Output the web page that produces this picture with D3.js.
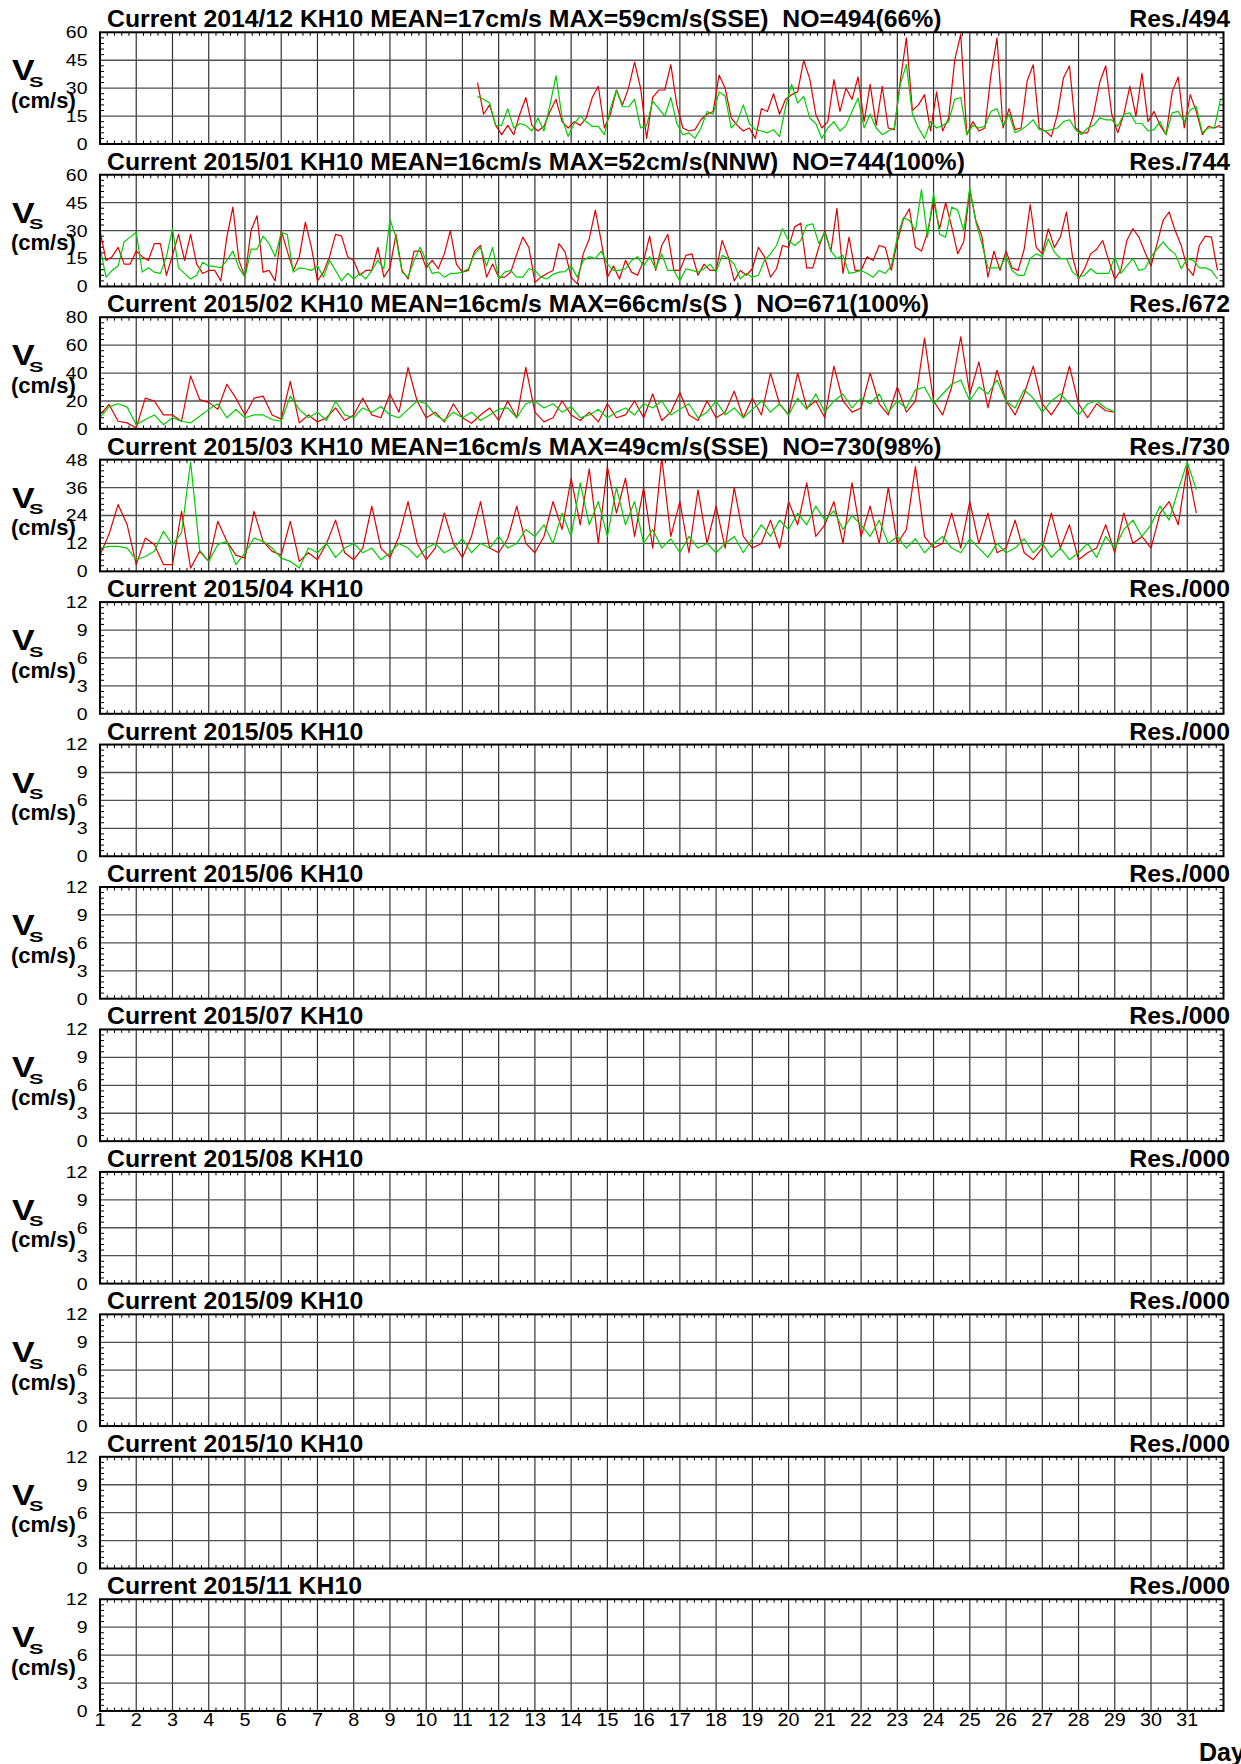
<!DOCTYPE html>
<html><head><meta charset="utf-8">
<script src="https://cdn.jsdelivr.net/npm/d3@7"></script>
<style>
body{margin:0;background:#fff}
svg{display:block}
text{font-family:"Liberation Sans",Arial,Helvetica,sans-serif;white-space:pre}
</style>
</head><body>
<svg id="chart" width="1241" height="1764"></svg>
<script>
// ---------------- data ----------------
const panelMonths = ["2014/12","2015/01","2015/02","2015/03","2015/04","2015/05","2015/06","2015/07","2015/08","2015/09","2015/10","2015/11"];
const panelStats = ["MEAN=17cm/s MAX=59cm/s(SSE)  NO=494(66%)","MEAN=16cm/s MAX=52cm/s(NNW)  NO=744(100%)","MEAN=16cm/s MAX=66cm/s(S )  NO=671(100%)","MEAN=16cm/s MAX=49cm/s(SSE)  NO=730(98%)","","","","","","","",""];
const panelRes = ["Res./494","Res./744","Res./672","Res./730","Res./000","Res./000","Res./000","Res./000","Res./000","Res./000","Res./000","Res./000"];
const panelYMax = [60,60,80,48,12,12,12,12,12,12,12,12];
const dayTicks = d3.range(1, 32);
const stationName = "KH10";

// records sampled every `step` hours starting at `start` hours after day 1 00:00
const red201412 = [33,16,21,10,5,10,5,16,25,10,7,9.5,17.5,24,12,8.6,12,10,14,25,31,8.6,16,29,21,30,44,30,3,25,29,29,42.6,21,8.6,7,7.7,13,16,17.5,37,30,14,10,7,8.6,3,19,17.5,27,16,24,26.5,28,45,35,16,8.6,12,34.6,17.5,30,
 24,36,12,32,10,31,8.6,7.7,34,57,18,21,26.5,7,28,7,14,45,59,5,12,7,8.6,37,57,8.6,19,7.7,8.6,34,42.6,8.6,7,4,16,35.5,42,8.6,6,6,16,33,42,16,6,16,31,15,38,12,17.5,10,5,28,36,8.6,26.5,17.5,5,9.5,8.6,10];
const green201412 = [25.6,24,22,10,10,19,8.6,11,10,7,14,7,21,36.7,14,4,11,15,12,9.5,9.5,5,19,29,20,20,24,8.6,10,23,19,15,25,11,5,6,3,8.6,17.5,16,28,25.6,8.6,12,21,11,7.7,7,6,7.7,4,20,32,22,25.6,14,11,3,8.6,12,7,10,
 17.5,24.7,8.6,16,8.6,5,7,8.6,32,42.6,16,8.6,3,12,8.6,10,12,24,25,5,10,8.6,9.5,17.5,19,10,16,6,7.7,10,13,7.7,7,7.7,8.6,12,13,7.7,5,8.6,10,14,13,13,9.5,16,16.7,11,11,7,7.7,12,5,16.7,17.5,12,18.4,20,6,8.6,8.6,24];
const red201501 = [30,14,16,21,12,12,19,16,14,23,23,6,16.7,28,14,28,12,7,8.6,8.6,3,26.5,42.6,14,5,30,38,7.7,8.6,3,30,19,8.6,16,34.6,21,3,7.7,16,28,27,16,14,6,8.6,8.6,21,5,10,28,8.6,4,19,19,10,14,9.5,17.5,30,12,7.7,8.6,19,22,
 5,12,5,5,7.7,17.5,26.5,21,2.3,5,7,8.6,23,18.4,5,1.4,17.5,25.6,41,24,5,11,4,14,7.7,6,14,27,8.6,22,28,8.6,8.6,16.7,17.5,6,12,8.6,8.6,24.7,16,3,8.6,6,9.5,21,16,5,9.5,22,21,32,34,10,10,21,30,19,42,7,26.5,8.6,
 8.6,16,14,22,21,8.6,24,36,41.7,21,19,29,46,31,45,32,17.5,24,52,35.5,27,5,19,8.6,19,10,8.6,20,44,21,17.5,31,21,26.5,40,16,4,9.5,17.5,20,24.7,14,4,8.6,24.7,31,26.5,18.4,11,23,35.5,40,30,22,10,6,22,27,26.5,8.6];
const green201501 = [21,5,8.6,11,24,26.5,29,7.7,10,7.7,7,16,31,10,7,4,6,13,11,10.7,10,14,19,10,5,20,20,27,23,16,29,28,7.7,10,9.5,8.6,11,5,14,8.6,3,7,4,7,4,8.6,14,9.5,36,26.5,7.7,5,14,21,14,7,7.7,5,7,7,7.7,9.5,17.5,21,
 11,21,4,7.7,8.6,5,5,9.5,8.6,5,4,6.5,7.7,8,11,5,14,16,15,19,12,8.6,8.6,9.5,14,16,11,16,9.5,17.5,8.6,8.6,3,9.5,8.6,7.7,9.5,12,7.7,16.7,15,12,4,7,5,6,14,17.5,22,31,24.7,22,24.7,32.8,33.7,23,29,19,15,16.7,7,7.7,
 8.6,7,5,8.6,7,11,26.5,37,35.5,30,52,26.5,50,28,26.5,42.6,41,30,53,34.6,23,10,10,10,16,8.6,6,6,15,17.5,16,25.6,18.4,15,15,7.7,5,6,9.5,7,7,7,16,7,11,15,8.6,9.5,16,20,24,20,17.5,9.5,15,14,10,10,8.6,4];
const red201502 = [10,17.5,5.5,4.3,0.7,22,20,10,10,5.5,38,21,19,14,32,22,10,22,23.5,10,7,34,4.3,
 10,5,8,15,6,10,22,10,8,25, 12,44,20,8,12,5,18,8,4,10, 15,6,20,8,44,12,5,8,20,10, 6,12,5,18,8,10,20,8,25,6,
 12,26,10,6,20,8,12,27,8,22, 10,40,18,10,40,15,20,8,45,20, 12,15,40,18,10,30,12,20,65,20, 10,30,66,25,48,15,42,20,10,25,
 45,18,10,20,45,18,8,18,13,12];
const green201502 = [8,16,18,15.6,3,6.7,10,3,8,5.5,4.3,9,14,18,8,14,8,10,10,6.7,5.5,23.5,14,
 8,12,6,20,10,8,15,12,16,10, 8,14,20,18,10,6,12,8,12,6, 10,14,15,8,18,20,15,18,12,16, 8,10,14,8,12,15,10,18,15,20,
 10,14,18,8,12,20,10,15,8,14, 20,12,18,10,22,14,25,12,20,25, 15,22,18,25,12,20,15,28,30,18, 25,32,35,20,30,25,35,20,15,28,
 22,12,20,25,18,10,18,20,15,12];
const red201503 = [7,16,28.7,20,2.9,14.3,11.5,2.9,2.9,25.8,1.4,8.6,4.3,21.5,12.9,7,5.7,25.8,12.9,8.6,7,21.5,4.3,
 8,5,12,22,8,5,10,28,10,6, 15,30,12,5,10,25,12,6,15,30, 10,8,14,28,12,8,15,30,18,40, 20,44,12,45,25,40,15,36,10,49,
 15,30,8,35,12,28,10,36,15,10, 12,22,10,30,20,38,15,20,30,12, 38,15,28,12,36,12,18,45,15,10, 12,25,10,30,12,25,8,10,22,8,
 5,10,25,10,20,5,8,10,20,8, 25,12,15,10,25,30,20,45,25];
const green201503 = [10,10.7,10.7,10,5,6.4,8.6,17.2,11.5,16.5,47,9,4.3,11.5,12.9,2.9,7.9,14.3,12.9,10,5.7,4.3,1.4,
 10,8,12,6,10,12,8,10,5,8, 12,10,6,10,12,8,10,14,8,12, 10,15,10,12,18,15,20,12,25,15, 38,20,30,15,36,20,30,12,18,10,
 14,8,15,10,12,8,12,15,8,14, 20,15,22,18,25,20,28,22,26,18, 24,20,15,22,12,15,10,14,8,12, 15,10,8,14,10,6,12,8,10,14,
 8,12,6,10,5,8,12,6,15,10, 18,22,15,20,28,22,35,47,35];

const panelSeries = [
  {red: red201412, green: green201412, start: 250, step: 4},
  {red: red201501, green: green201501, start: 0, step: 4},
  {red: red201502, green: green201502, start: 0, step: 6},
  {red: red201503, green: green201503, start: 0, step: 6},
  null,null,null,null,null,null,null,null
];

// ---------------- layout ----------------
const W = 1241, H = 1764;
const plotLeft = 100, plotRight = 1223.5;
const firstTop = 32.3, pitch = 142.45, plotH = 111.7;
const redColor = "#e00000", greenColor = "#00cc00";

const svg = d3.select("#chart");
svg.append("rect").attr("width", W).attr("height", H).attr("fill", "#fff");

const x = d3.scaleLinear().domain([1, 32]).range([plotLeft, plotRight]);
const defs = svg.append("defs");

function stretchText(parent, tx, ty, str, size, opts = {}) {
  const t = parent.append("text")
    .attr("transform", `translate(${tx},${ty}) scale(${opts.sx || 1},1)`)
    .attr("font-size", size).attr("fill", "#000")
    .attr("font-weight", opts.bold ? "bold" : "normal")
    .attr("text-anchor", opts.anchor || "start");
  if (opts.dy) t.attr("dy", opts.dy);
  t.text(str);
  return t;
}

panelMonths.forEach((month, p) => {
  const top = firstTop + p * pitch;
  const bottom = top + plotH;
  const ymax = panelYMax[p];
  const y = d3.scaleLinear().domain([0, ymax]).range([bottom, top]);
  const g = svg.append("g");

  const majorY = d3.range(0, 5).map(k => k * ymax / 4);
  const minorY = d3.range(0, 21).map(k => k * ymax / 20).filter((v, k) => k % 5 !== 0);
  const minorX = [];
  for (let d = 1; d < 32; d++) for (let k = 1; k < 5; k++) minorX.push(d + k / 5);

  // vertical grid
  g.selectAll(".vg").data(dayTicks.filter(d => d > 1)).join("line")
    .attr("x1", d => x(d)).attr("x2", d => x(d)).attr("y1", top).attr("y2", bottom)
    .attr("stroke", "#333").attr("stroke-width", 1.2);
  // horizontal grid
  g.selectAll(".hg").data(majorY.slice(1, 4)).join("line")
    .attr("x1", plotLeft).attr("x2", plotRight).attr("y1", d => y(d)).attr("y2", d => y(d))
    .attr("stroke", "#505050").attr("stroke-width", 1.3);
  // minor x ticks (top and bottom)
  g.selectAll(".mxb").data(minorX).join("line")
    .attr("x1", d => x(d)).attr("x2", d => x(d)).attr("y1", bottom).attr("y2", bottom - 3.5)
    .attr("stroke", "#000").attr("stroke-width", 1);
  g.selectAll(".mxt").data(minorX).join("line")
    .attr("x1", d => x(d)).attr("x2", d => x(d)).attr("y1", top).attr("y2", top + 3.5)
    .attr("stroke", "#000").attr("stroke-width", 1);
  // minor y ticks (left and right)
  g.selectAll(".myl").data(minorY).join("line")
    .attr("x1", plotLeft).attr("x2", plotLeft + 4).attr("y1", d => y(d)).attr("y2", d => y(d))
    .attr("stroke", "#000").attr("stroke-width", 1);
  g.selectAll(".myr").data(minorY).join("line")
    .attr("x1", plotRight).attr("x2", plotRight - 4).attr("y1", d => y(d)).attr("y2", d => y(d))
    .attr("stroke", "#000").attr("stroke-width", 1);

  // data lines
  const s = panelSeries[p];
  if (s) {
    const cid = "clip" + p;
    defs.append("clipPath").attr("id", cid).append("rect")
      .attr("x", plotLeft).attr("y", top).attr("width", plotRight - plotLeft).attr("height", plotH);
    const line = d3.line()
      .x((v, i) => x(1 + (s.start + i * s.step) / 24))
      .y(v => y(v));
    g.append("path").datum(s.red).attr("d", line).attr("fill", "none")
      .attr("stroke", redColor).attr("stroke-width", 1.2).attr("stroke-linejoin", "round")
      .attr("clip-path", `url(#${cid})`);
    g.append("path").datum(s.green).attr("d", line).attr("fill", "none")
      .attr("stroke", greenColor).attr("stroke-width", 1.2).attr("stroke-linejoin", "round")
      .attr("clip-path", `url(#${cid})`);
  }

  // frame
  g.append("rect").attr("x", plotLeft).attr("y", top).attr("width", plotRight - plotLeft).attr("height", plotH)
    .attr("fill", "none").attr("stroke", "#000").attr("stroke-width", 2);

  // y tick labels
  majorY.forEach(v => stretchText(g, 87.5, y(v), d3.format("d")(v), 16.5, {sx: 1.18, anchor: "end", dy: "0.36em"}));

  // axis title V_s (cm/s)
  stretchText(g, 12, top + 48, "V", 29, {bold: true, sx: 1.17});
  stretchText(g, 29, top + 54.5, "S", 15, {bold: true, sx: 1.45});
  stretchText(g, 11, top + 75.5, "(cm/s)", 22, {bold: true});

  // panel title
  const stats = panelStats[p];
  stretchText(g, 107, top - 5, `Current ${month} ${stationName}` + (stats ? " " + stats : ""), 24.8, {bold: true});
  stretchText(g, 1230, top - 5, panelRes[p], 24.8, {bold: true, anchor: "end"});

  // x tick labels on last panel
  if (p === panelMonths.length - 1) {
    dayTicks.forEach(d => stretchText(g, x(d), bottom + 15.5, String(d), 18, {sx: 1.1, anchor: "middle"}));
  }
});

stretchText(svg, 1199, 1761, "Day", 25, {bold: true});
</script>
</body></html>
